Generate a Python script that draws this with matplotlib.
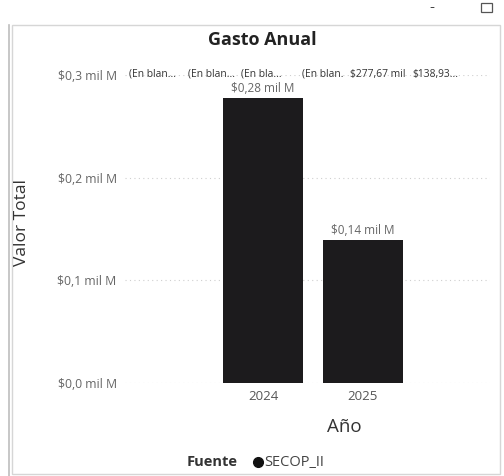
import matplotlib.pyplot as plt
from matplotlib.patches import Rectangle
from matplotlib.lines import Line2D

# datos
anios = ["2024", "2025"]
valores = [0.27767, 0.13893]
etiquetas = ["$0,28 mil M", "$0,14 mil M"]
yticks = [0.0, 0.1, 0.2, 0.3]
ytick_labels = ["$0,0 mil M", "$0,1 mil M", "$0,2 mil M", "$0,3 mil M"]
encabezados = ["(En blan...", "(En blan...", "(En bla...", "(En blan.", "$277,67 mil", "$138,93..."]
encabezados_x = [129, 188, 241, 302, 350, 412]

W, H = 504, 476
plt.rcParams['font.family'] = ['Open Sans', 'DejaVu Sans']

fig = plt.figure(figsize=(W / 100, H / 100), dpi=100)
fig.patch.set_facecolor('white')

def fx(x):
    return x / W

def fy(y):
    return 1 - y / H

# marco del visual
fig.add_artist(Rectangle((fx(12), fy(474)), fx(500) - fx(12), fy(25) - fy(474),
                         transform=fig.transFigure, fill=False, edgecolor='#d6d6d6', lw=1))
fig.add_artist(Line2D([fx(9), fx(9)], [fy(25), fy(476)], transform=fig.transFigure,
                      color='#bdbdbd', lw=1.2))
fig.text(fx(432), fy(8), "-", ha='center', va='center', fontsize=11, color='#444444')
fig.add_artist(Rectangle((fx(481), fy(12)), fx(11), fy(3) - fy(12),
                         transform=fig.transFigure, fill=False, edgecolor='#555555', lw=0.9))

ax = fig.add_axes([fx(125), fy(383), fx(490) - fx(125), fy(75) - fy(383)])
x = range(len(anios))
ax.bar(x, valores, width=0.8, color='#1c1b1d')
ax.set_xlim(-1.38, 2.27)
ax.set_ylim(0, 0.3)
ax.set_yticks(yticks)
ax.set_yticklabels(ytick_labels, fontsize=8.8, color='#666666')
ax.set_xticks(list(x))
ax.set_xticklabels(anios, fontsize=9.5, color='#555555')
ax.tick_params(length=0, pad=5)
ax.tick_params(axis='y', pad=6)
for s in ax.spines.values():
    s.set_visible(False)
ax.grid(axis='y', linestyle=(0, (1, 3)), color='#cfcfcf', lw=0.8)
ax.set_axisbelow(True)

for xi, v, t in zip(x, valores, etiquetas):
    ax.text(xi, v + 0.003, t, ha='center', va='bottom', fontsize=8.5, color='#666666')

for t, px in zip(encabezados, encabezados_x):
    fig.text(fx(px), fy(74), t, ha='left', va='center', fontsize=7.4, color='#333333')

fig.text(fx(262), fy(40), "Gasto Anual", ha='center', va='center', fontsize=13,
         fontweight='bold', color='#222222')
fig.text(fx(22), fy(222), "Valor Total", ha='center', va='center', rotation=90,
         fontsize=12.5, color='#333333')
fig.text(fx(344), fy(427), "Año", ha='center', va='center', fontsize=13.5, color='#333333')
fig.text(fx(187), fy(462), "Fuente", ha='left', va='center', fontsize=10.5,
         fontweight='bold', color='#333333')
fig.add_artist(Line2D([fx(258)], [fy(462)], transform=fig.transFigure, marker='o',
                      markersize=7, color='#111111', linestyle='none'))
fig.text(fx(264), fy(462), "SECOP_II", ha='left', va='center', fontsize=10.5, color='#444444')

fig.savefig("out.png", dpi=100, facecolor='white')
